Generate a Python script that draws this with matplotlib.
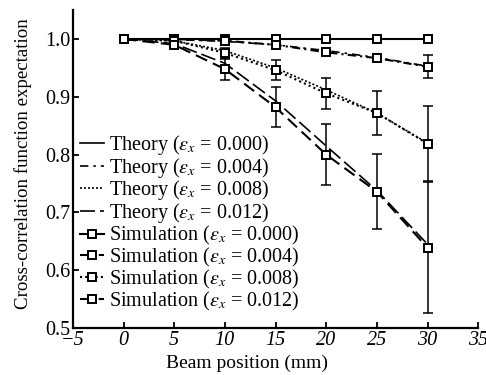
import matplotlib
matplotlib.use("Agg")
import matplotlib.pyplot as plt
import numpy as np

plt.rcParams['font.family'] = ['Liberation Serif', 'DejaVu Serif']
plt.rcParams['mathtext.fontset'] = 'stix'

x = [0, 5, 10, 15, 20, 25, 30]
eps_labels = ['0.000', '0.004', '0.008', '0.012']

theory_000 = [1.0, 1.0, 1.0, 1.0, 1.0, 1.0, 1.0]
theory_004 = [1.0, 0.999, 0.996, 0.990, 0.980, 0.968, 0.953]
theory_008 = [1.0, 0.997, 0.980, 0.950, 0.912, 0.872, 0.820]
theory_012 = [1.0, 0.992, 0.958, 0.893, 0.815, 0.738, 0.645]

sim_000 = [1.0, 1.0, 1.0, 1.0, 1.0, 1.0, 1.0]
sim_004 = [1.0, 1.0, 0.997, 0.990, 0.977, 0.967, 0.952]
sim_008 = [1.0, 0.997, 0.976, 0.946, 0.906, 0.872, 0.819]
sim_012 = [1.0, 0.990, 0.948, 0.882, 0.800, 0.736, 0.639]

err_000 = [0, 0, 0, 0, 0, 0, 0]
err_004 = [0, 0, 0.002, 0.004, 0.005, 0.007, 0.020]
err_008 = [0, 0.002, 0.008, 0.017, 0.027, 0.038, 0.065]
err_012 = [0, 0.004, 0.018, 0.035, 0.053, 0.065, 0.113]

fig = plt.figure(figsize=(4.86, 3.75), dpi=100)
ax = fig.add_axes([0.150, 0.125, 0.834, 0.848])

theories = [theory_000, theory_004, theory_008, theory_012]
t_styles = ['-', (0, (5, 3, 1.5, 3)), (0, (1.2, 1.2)), (0, (9, 3))]
for t, ls, e in zip(theories, t_styles, eps_labels):
    ax.plot(x, t, color='black', lw=1.2, ls=ls,
            label=r'Theory ($\varepsilon_x$ = ' + e + ')')

sims = [sim_000, sim_004, sim_008, sim_012]
errs = [err_000, err_004, err_008, err_012]
s_styles = ['-', (0, (4, 2, 1, 2)), (0, (1, 1.5)), (0, (6, 3))]
for s, er, ls, e in zip(sims, errs, s_styles, eps_labels):
    ax.errorbar(x, s, yerr=er, fmt='none', ecolor='black', elinewidth=1.1,
                capsize=3.5, capthick=1.1)
    ax.plot(x, s, color='black', lw=1.5, ls=ls, marker='s', markersize=6,
            markerfacecolor='white', markeredgecolor='black', markeredgewidth=1.4,
            label=r'Simulation ($\varepsilon_x$ = ' + e + ')')

ax.set_xlim(-5, 35)
ax.set_ylim(0.5, 1.05)
ax.set_xticks([-5, 0, 5, 10, 15, 20, 25, 30, 35])
ax.set_xticklabels(['\u22125', '0', '5', '10', '15', '20', '25', '30', '35'],
                   fontstyle='italic')
ax.set_yticks([0.5, 0.6, 0.7, 0.8, 0.9, 1.0])
ax.set_yticklabels(['0.5', '0.6', '0.7', '0.8', '0.9', '1.0'])
ax.tick_params(direction='in', length=4, width=1.3, labelsize=14.5, pad=2)
for side in ['top', 'right']:
    ax.spines[side].set_visible(False)
for side in ['left', 'bottom']:
    ax.spines[side].set_linewidth(1.6)

ax.set_xlabel('Beam position (mm)', fontsize=14)
ax.xaxis.set_label_coords(0.43, -0.085)
ax.set_ylabel('Cross-correlation function expectation', fontsize=13.6)
ax.yaxis.set_label_coords(-0.101, 0.517)

ax.legend(loc='upper left', bbox_to_anchor=(-0.012, 0.652), frameon=False,
          fontsize=14.5, handlelength=1.2, handletextpad=0.25,
          labelspacing=-0.06, borderaxespad=0.2)

fig.savefig('out.png', dpi=100)
